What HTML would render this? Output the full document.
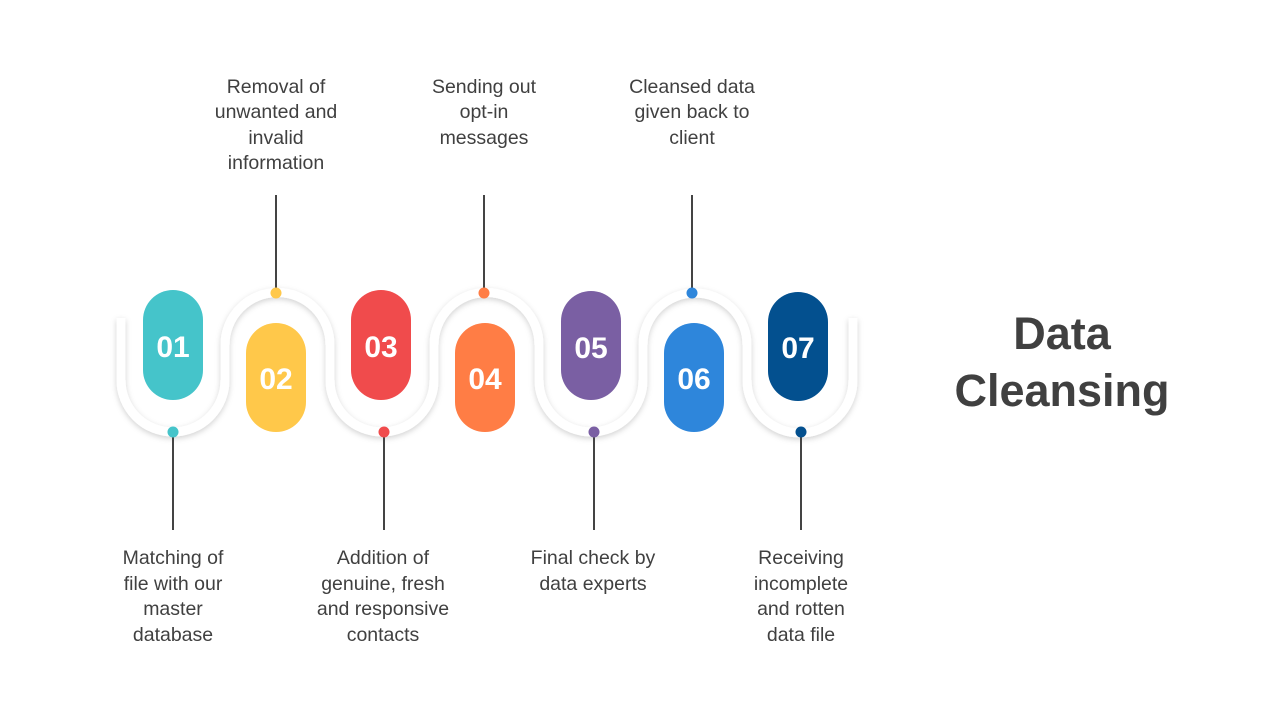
<!DOCTYPE html>
<html><head><meta charset="utf-8"><style>
html,body{margin:0;padding:0;background:#fff;}
svg{display:block;}
text{font-family:"Liberation Sans","DejaVu Sans",sans-serif;}
</style></head><body>
<svg width="1280" height="720" viewBox="0 0 1280 720" xmlns="http://www.w3.org/2000/svg">
<defs>
<filter id="sh" x="-10%" y="-30%" width="120%" height="160%">
<feDropShadow dx="0" dy="2" stdDeviation="3" flood-color="#000" flood-opacity="0.18"/>
</filter>
</defs>
<rect width="1280" height="720" fill="#fff"/>
<path d="M121,318 L121,380 A52,52 0 0 0 225,380 L225,345 A52.5,52.5 0 0 1 330,345 L330,380 A52,52 0 0 0 434,380 L434,345 A52.5,52.5 0 0 1 539,345 L539,380 A52,52 0 0 0 643,380 L643,345 A52,52 0 0 1 747,345 L747,380 A53,53 0 0 0 853,380 L853,318"
 fill="none" stroke="#fff" stroke-width="9" filter="url(#sh)"/>
<g stroke="#444" stroke-width="2">
<line x1="276" y1="195" x2="276" y2="292"/>
<line x1="484" y1="195" x2="484" y2="292"/>
<line x1="692" y1="195" x2="692" y2="292"/>
<line x1="173" y1="432" x2="173" y2="530"/>
<line x1="384" y1="432" x2="384" y2="530"/>
<line x1="594" y1="432" x2="594" y2="530"/>
<line x1="801" y1="432" x2="801" y2="530"/>
</g>
<circle cx="276" cy="293" r="5.5" fill="#FFC84A"/>
<circle cx="484" cy="293" r="5.5" fill="#FF7D45"/>
<circle cx="692" cy="293" r="5.5" fill="#2E86DB"/>
<circle cx="173" cy="432" r="5.5" fill="#45C4CA"/>
<circle cx="384" cy="432" r="5.5" fill="#F04B4C"/>
<circle cx="594" cy="432" r="5.5" fill="#7A5FA3"/>
<circle cx="801" cy="432" r="5.5" fill="#03508F"/>
<rect x="143" y="290" width="60" height="110" rx="30" fill="#45C4CA"/>
<rect x="246" y="323" width="60" height="109" rx="30" fill="#FFC84A"/>
<rect x="351" y="290" width="60" height="110" rx="30" fill="#F04B4C"/>
<rect x="455" y="323" width="60" height="109" rx="30" fill="#FF7D45"/>
<rect x="561" y="291" width="60" height="109" rx="30" fill="#7A5FA3"/>
<rect x="664" y="323" width="60" height="109" rx="30" fill="#2E86DB"/>
<rect x="768" y="292" width="60" height="109" rx="30" fill="#03508F"/>
<g fill="#fff" font-size="30" font-weight="bold" text-anchor="middle">
<text x="173" y="357">01</text>
<text x="276" y="389">02</text>
<text x="381" y="357">03</text>
<text x="485" y="389">04</text>
<text x="591" y="358">05</text>
<text x="694" y="389">06</text>
<text x="798" y="358">07</text>
</g>
<g fill="#404040" font-size="19.5" text-anchor="middle">
<text x="276" y="93">Removal of</text>
<text x="276" y="118">unwanted and</text>
<text x="276" y="144">invalid</text>
<text x="276" y="169">information</text>
<text x="484" y="93">Sending out</text>
<text x="484" y="118">opt-in</text>
<text x="484" y="144">messages</text>
<text x="692" y="93">Cleansed data</text>
<text x="692" y="118">given back to</text>
<text x="692" y="144">client</text>
<text x="173" y="564">Matching of</text>
<text x="173" y="590">file with our</text>
<text x="173" y="615">master</text>
<text x="173" y="641">database</text>
<text x="383" y="564">Addition of</text>
<text x="383" y="590">genuine, fresh</text>
<text x="383" y="615">and responsive</text>
<text x="383" y="641">contacts</text>
<text x="593" y="564">Final check by</text>
<text x="593" y="590">data experts</text>
<text x="801" y="564">Receiving</text>
<text x="801" y="590">incomplete</text>
<text x="801" y="615">and rotten</text>
<text x="801" y="641">data file</text>
</g>
<g fill="#404040" font-size="45" font-weight="bold" text-anchor="middle">
<text x="1062" y="349">Data</text>
<text x="1062" y="406">Cleansing</text>
</g>
</svg>
</body></html>
